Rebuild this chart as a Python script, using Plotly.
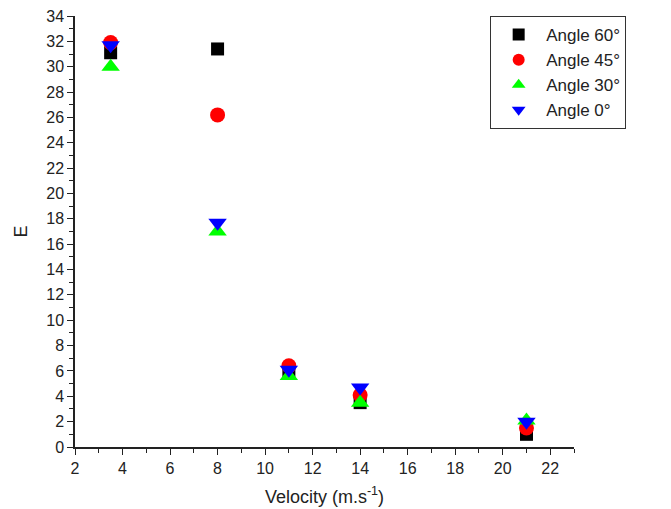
import plotly.graph_objects as go

velocity = [3.5, 8, 11, 14, 21]
e_60 = [31.1, 31.4, 5.9, 3.5, 1.0]
e_45 = [31.9, 26.2, 6.4, 4.1, 1.5]
e_30 = [30.0, 17.0, 5.6, 3.5, 2.1]
e_0 = [31.7, 17.7, 6.1, 4.7, 2.0]

series = [
    ("Angle 60°", e_60, "square", "#000000", 13),
    ("Angle 45°", e_45, "circle", "#ff0000", 15),
    ("Angle 30°", e_30, "triangle-up", "#00ff00", 16),
    ("Angle 0°", e_0, "triangle-down", "#0000ff", 16),
]

fig = go.Figure()
for name, vals, sym, col, sz in series:
    fig.add_trace(go.Scatter(
        x=velocity, y=vals, mode="markers", name=name,
        marker=dict(symbol=sym, color=col, size=sz, line=dict(width=0)),
    ))

font = "Liberation Sans, Arial, sans-serif"
fig.update_layout(
    width=663, height=501,
    margin=dict(l=67, r=97, t=8, b=62, autoexpand=False),
    plot_bgcolor="white", paper_bgcolor="white",
    font=dict(family=font, size=15, color="#222"),
    showlegend=True,
    legend=dict(
        x=0.832, y=1.0, xanchor="left", yanchor="top",
        xref="paper", yref="paper",
        bordercolor="#333", borderwidth=1, bgcolor="white",
        font=dict(size=17, family=font, color="#222"),
        tracegroupgap=0, itemsizing="constant", itemwidth=45,
    ),
    xaxis=dict(
        range=[2, 23], tick0=2, dtick=2, showgrid=False, zeroline=False,
        showline=True, linecolor="#222", linewidth=1.5,
        ticks="outside", ticklen=6, tickwidth=1.2, tickcolor="#222",
        minor=dict(dtick=1, tick0=2, ticks="outside", ticklen=4, tickcolor="#222", tickwidth=1),
        tickfont=dict(size=16, family=font, color="#222"),
        ticklabeloverflow="allow",
        title=dict(text="Velocity (m.s<sup>-1</sup>)", font=dict(size=18, family=font, color="#222"), standoff=14),
    ),
    yaxis=dict(
        range=[0, 34], tick0=0, dtick=2, showgrid=False, zeroline=False,
        showline=True, linecolor="#222", linewidth=1.5,
        ticks="outside", ticklen=6, tickwidth=1.2, tickcolor="#222",
        minor=dict(dtick=1, tick0=0, ticks="outside", ticklen=4, tickcolor="#222", tickwidth=1),
        tickfont=dict(size=16, family=font, color="#222"),
        ticklabeloverflow="allow",
        title=dict(text="E", font=dict(size=18, family=font, color="#222"), standoff=14),
    ),
)

fig.write_html("out.html")
